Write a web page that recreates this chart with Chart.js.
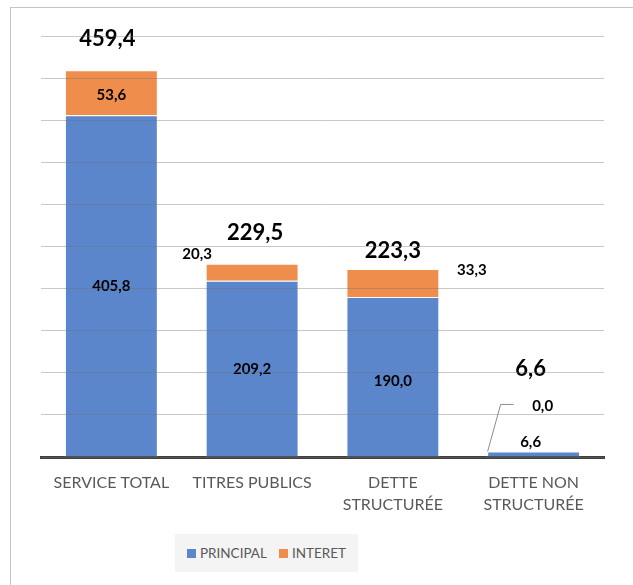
<!DOCTYPE html>
<html lang="fr">
<head>
  <meta charset="UTF-8">
  <title>Service de la dette</title>
  <script src="https://cdn.jsdelivr.net/npm/chart.js"></script>
  <style>
    body { margin: 0; background: #fff; font-family: Lato, "Open Sans", sans-serif; }
    .frame {
      position: absolute; left: 10px; top: 7px; width: 700px; height: 700px;
      border: 1px solid #c4c4c4;
    }
    .chart-wrap { position: absolute; left: 0; top: 0; width: 633px; height: 530px; }
    .legend {
      position: absolute; left: 175px; top: 534px; width: 183px; height: 38px;
      background: #f4f4f4; display: flex; align-items: center; justify-content: center;
      gap: 12px; font-size: 13.5px; color: #595959;
    }
    .legend span.sw { display: inline-block; width: 9px; height: 9px; margin-right: 4px; }
  </style>
</head>
<body>

<div class="frame"></div>
<div class="chart-wrap">
  <canvas id="detteChart" width="633" height="530"></canvas>
</div>
<div class="legend" id="legend"></div>

<script>
  const categories = ['SERVICE TOTAL', 'TITRES PUBLICS', ['DETTE', 'STRUCTURÉE'], ['DETTE NON', 'STRUCTURÉE']];
  const principal = [405.8, 209.2, 190.0, 6.6];
  const interet = [53.6, 20.3, 33.3, 0.0];
  const yTicks = [0, 50, 100, 150, 200, 250, 300, 350, 400, 450, 500];

  const totals = principal.map((v, i) => v + interet[i]);

  // label nudges in pixels (Excel labels were moved by hand)
  const principalShift = [[0, 0], [0, 0], [0, 4], [-3, -12]];
  const interetShift = [[0, 2], [-55, -18], [79, -13], [9, -45]];
  const totalShift = [[-4, -31], [3, -31], [0, -18], [-3, -83]];

  const fmt = v => v.toFixed(1).replace('.', ',');

  const labelPlugin = {
    id: 'valueLabels',
    afterDatasetsDraw(chart) {
      const ctx = chart.ctx;
      const pMeta = chart.getDatasetMeta(0).data;
      const iMeta = chart.getDatasetMeta(1).data;
      ctx.save();
      ctx.textAlign = 'center';
      ctx.textBaseline = 'middle';
      ctx.fillStyle = '#000';

      ctx.font = 'bold 15px Lato, "Open Sans", sans-serif';
      pMeta.forEach((el, i) => {
        const s = principalShift[i];
        ctx.fillText(fmt(principal[i]), el.x + s[0], (el.y + el.base) / 2 + s[1]);
      });
      iMeta.forEach((el, i) => {
        const s = interetShift[i];
        const x = el.x + s[0], y = (el.y + el.base) / 2 + s[1];
        ctx.fillText(fmt(interet[i]), x, y);
        if (interet[i] === 0) {
          // leader line for the hidden zero segment
          ctx.strokeStyle = '#8c8c8c';
          ctx.lineWidth = 1;
          ctx.beginPath();
          ctx.moveTo(el.x - 46, el.y);
          ctx.lineTo(el.x - 33, y - 2);
          ctx.lineTo(el.x - 20, y - 2);
          ctx.stroke();
        }
      });

      ctx.font = 'bold 22px Lato, "Open Sans", sans-serif';
      iMeta.forEach((el, i) => {
        const s = totalShift[i];
        ctx.fillText(fmt(totals[i]), el.x + s[0], el.y + s[1]);
      });
      ctx.restore();
    }
  };

  const chart = new Chart(document.getElementById('detteChart'), {
    type: 'bar',
    data: {
      labels: categories,
      datasets: [
        {
          label: 'PRINCIPAL',
          data: principal,
          backgroundColor: '#5b86cb',
          borderColor: 'rgba(255,255,255,0.7)',
          borderWidth: 1,
          barPercentage: 0.66,
          categoryPercentage: 1
        },
        {
          label: 'INTERET',
          data: interet,
          backgroundColor: '#ef8d4d',
          borderColor: 'rgba(255,255,255,0.7)',
          borderWidth: 1,
          barPercentage: 0.66,
          categoryPercentage: 1
        }
      ]
    },
    options: {
      responsive: false,
      animation: false,
      layout: { padding: { left: 41, right: 29, top: 36, bottom: 7 } },
      plugins: {
        legend: { display: false },
        tooltip: { enabled: false }
      },
      scales: {
        x: {
          stacked: true,
          grid: { display: false },
          border: { color: '#404040', width: 3 },
          ticks: {
            color: '#595959',
            padding: 7,
            font: { family: 'Lato, "Open Sans", sans-serif', size: 16, lineHeight: 1.375 },
            maxRotation: 0
          }
        },
        y: {
          stacked: true,
          min: 0,
          max: 500,
          afterBuildTicks(axis) { axis.ticks = yTicks.map(v => ({ value: v })); },
          ticks: { display: false },
          border: { display: false },
          grid: { color: 'rgba(110,110,110,0.38)', lineWidth: 1, drawTicks: false, z: 1 }
        }
      }
    },
    plugins: [labelPlugin]
  });

  // legend built from the datasets
  const legendEl = document.getElementById('legend');
  chart.data.datasets.forEach(ds => {
    const item = document.createElement('div');
    item.innerHTML = '<span class="sw" style="background:' + ds.backgroundColor + '"></span>' + ds.label;
    legendEl.appendChild(item);
  });
</script>

</body>
</html>
